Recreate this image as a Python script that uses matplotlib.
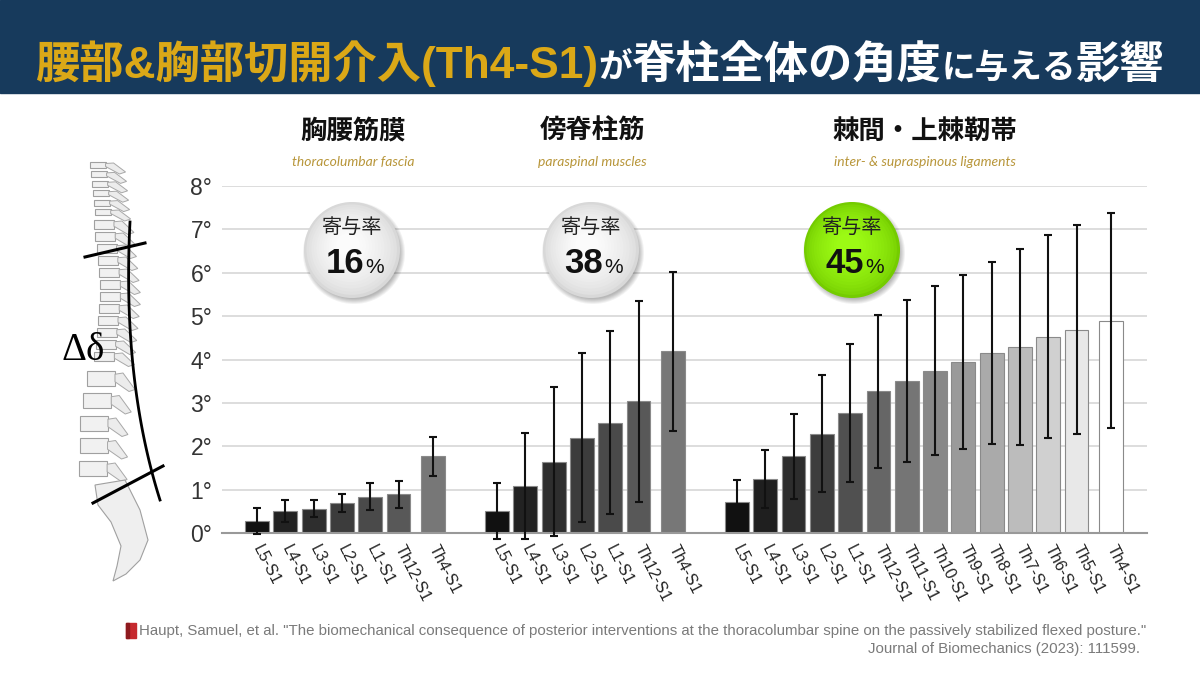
import numpy as np
import matplotlib.pyplot as plt
from matplotlib.patches import Rectangle, Circle, Polygon

plt.rcParams['font.family'] = ['Noto Sans CJK JP', 'DejaVu Sans']

# data
left_labels = ['L5-S1', 'L4-S1', 'L3-S1', 'L2-S1', 'L1-S1', 'Th12-S1', 'Th4-S1']
left_vals = [0.28, 0.52, 0.57, 0.70, 0.84, 0.90, 1.77]
left_errs = [0.30, 0.25, 0.19, 0.20, 0.31, 0.31, 0.45]

mid_labels = ['L5-S1', 'L4-S1', 'L3-S1', 'L2-S1', 'L1-S1', 'Th12-S1', 'Th4-S1']
mid_vals = [0.52, 1.08, 1.65, 2.20, 2.55, 3.04, 4.19]
mid_errs = [0.65, 1.22, 1.71, 1.95, 2.11, 2.31, 1.83]

right_labels = ['L5-S1', 'L4-S1', 'L3-S1', 'L2-S1', 'L1-S1', 'Th12-S1', 'Th11-S1',
                'Th10-S1', 'Th9-S1', 'Th8-S1', 'Th7-S1', 'Th6-S1', 'Th5-S1', 'Th4-S1']
right_vals = [0.71, 1.25, 1.77, 2.29, 2.78, 3.27, 3.51, 3.75, 3.94, 4.15, 4.29, 4.53, 4.69, 4.90]
right_errs = [0.52, 0.67, 0.98, 1.35, 1.59, 1.76, 1.86, 1.95, 2.00, 2.10, 2.25, 2.34, 2.41, 2.47]

group_names = ['胸腰筋膜', '傍脊柱筋', '棘間・上棘靭帯']
group_sub = ['thoracolumbar fascia', 'paraspinal muscles', 'inter- & supraspinous ligaments']
contrib = ['16', '38', '45']

short_colors = ['#111111', '#222222', '#2e2e2e', '#3c3c3c', '#4a4a4a', '#585858', '#777777']
long_colors = ['#111111', '#1f1f1f', '#2d2d2d', '#3d3d3d', '#505050', '#666666', '#757575',
               '#888888', '#9a9a9a', '#aaaaaa', '#bcbcbc', '#d0d0d0', '#e8e8e8', '#ffffff']

groups = [(left_labels, left_vals, left_errs, short_colors),
          (mid_labels, mid_vals, mid_errs, short_colors),
          (right_labels, right_vals, right_errs, long_colors)]
starts = [1.24, 9.72, 18.2]

fig = plt.figure(figsize=(12, 6.75), dpi=100)
fig.patch.set_facecolor('white')

ax = fig.add_axes([222/1200, (675-533.3)/675, 925/1200, 347.3/675])
ax.set_facecolor('none')
ax.set_axisbelow(True)

all_pos, all_lab = [], []
for (labs, vals, errs, cols), s in zip(groups, starts):
    pos = s + np.arange(len(vals), dtype=float)
    pos[-1] += 0.22
    ax.bar(pos, vals, width=0.84, color=cols, edgecolor='#8a8a8a', linewidth=0.8, zorder=2)
    ax.errorbar(pos, vals, yerr=errs, fmt='none', ecolor='#111111', elinewidth=1.5,
                capsize=3, capthick=1.5, zorder=3, clip_on=False)
    all_pos += list(pos)
    all_lab += labs

ax.set_xlim(0, 32.69)
ax.set_ylim(0, 8)
ax.set_yticks(range(9))
ax.set_yticklabels([f'{i}°' for i in range(9)], fontsize=16.5, color='#333333',
                   family=['Liberation Sans', 'DejaVu Sans'])
ax.set_xticks(all_pos)
ax.set_xticklabels(all_lab, rotation=-63, ha='left', va='center', rotation_mode='anchor',
                   fontsize=11.5, color='#222222', family=['Liberation Sans', 'DejaVu Sans'])
ax.tick_params(axis='x', length=0, pad=9)
ax.tick_params(axis='y', length=0, pad=7)
ax.grid(axis='y', color='#dadada', linewidth=1.3)
for sp in ['left', 'right', 'top']:
    ax.spines[sp].set_visible(False)
ax.spines['bottom'].set_color('#999999')
ax.spines['bottom'].set_linewidth(1.5)

# overlay in pixel coordinates for the decorations
deco = fig.add_axes([0, 0, 1, 1], zorder=5)
deco.set_xlim(0, 1200)
deco.set_ylim(675, 0)
deco.set_axis_off()
deco.patch.set_facecolor('none')

deco.add_patch(Rectangle((0, 0), 1200, 93, color='#173a5c', zorder=1))

# title made of pieces with different colours and sizes
pieces = [('腰部&胸部切開介入(Th4-S1)', '#dba817', 1.0),
          ('が', 'white', 0.76),
          ('脊柱全体の角度', 'white', 1.0),
          ('に与える', 'white', 0.76),
          ('影響', 'white', 1.0)]
tfam = ['Liberation Sans', 'Noto Sans CJK JP', 'DejaVu Sans']
renderer = fig.canvas.get_renderer()


def place_title(size, keep):
    x = 35
    for txt, col, rel in pieces:
        t = deco.text(x, 78, txt, color=col, fontsize=size*rel, fontweight='bold',
                      ha='left', va='baseline', zorder=3, family=tfam)
        w = t.get_window_extent(renderer).width
        if not keep:
            t.remove()
        x += w
    return x - 35


base = 30
wtot = place_title(base, False)
place_title(base * 1130 / wtot, True)

# group headings
head_x = [353, 592, 925]
for hx, name, sub in zip(head_x, group_names, group_sub):
    deco.text(hx, 131, name, fontsize=19, fontweight='bold', color='#111111',
              ha='center', va='center')
    deco.text(hx, 162, sub, fontsize=10, style='italic', color='#b8963a',
              ha='center', va='center', family=['Lato', 'DejaVu Sans'])

# contribution bubbles
bub_x = [352, 591, 852]
bub_col = [('#d8d8d8', '#fbfbfb'), ('#d8d8d8', '#fbfbfb'), ('#74cc00', '#9cfa14')]
for bx, pc, (c_out, c_in) in zip(bub_x, contrib, bub_col):
    by, r = 250, 48
    for k in range(6):
        deco.add_patch(Circle((bx + 2, by + 3), r + 3 - k, color='#000000',
                              alpha=0.05, lw=0, zorder=2))
    c0 = np.array(plt.matplotlib.colors.to_rgb(c_out))
    c1 = np.array(plt.matplotlib.colors.to_rgb(c_in))
    n = 14
    for k in range(n):
        f = k / (n - 1)
        rr = r * (1 - 0.75 * f)
        deco.add_patch(Circle((bx - 4 * f, by - 5 * f), rr, color=c0 + (c1 - c0) * f ** 0.6,
                              lw=0, zorder=3))
    deco.text(bx, 228, '寄与率', fontsize=14.5, color='#222222', ha='center', va='center', zorder=4)
    deco.text(bx + 12, 273, pc, fontsize=25, fontweight='bold', color='#111111', ha='right',
              va='baseline', zorder=4, family=['Liberation Sans', 'DejaVu Sans'])
    deco.text(bx + 13, 273, '%', fontsize=15, color='#111111', ha='left', va='baseline',
              zorder=4, family=['Liberation Sans', 'DejaVu Sans'])

# simple spine sketch
cy = [160, 215, 290, 360, 420, 475, 500]
cx = [97, 103, 111, 104, 94, 93, 100]
levels = ([(y, 16, 6) for y in np.linspace(165, 212, 6)] +
          [(y, 20, 9) for y in np.linspace(224, 356, 12)] +
          [(y, 28, 15) for y in np.linspace(378, 468, 5)])
for y, w, h in levels:
    x = np.interp(y, cy, cx)
    deco.add_patch(Rectangle((x - w / 2, y - h / 2), w, h, facecolor='#f1f1f1',
                             edgecolor='#a0a0a0', lw=0.8, zorder=2))
    deco.add_patch(Polygon([(x + w / 2, y - h / 4), (x + w / 2 + 8, y - h / 3),
                            (x + w / 2 + 20, y + h / 2 + 4), (x + w / 2 + 14, y + h / 2 + 6),
                            (x + w / 2, y + h / 4)],
                           facecolor='#ececec', edgecolor='#a8a8a8', lw=0.7, zorder=2))
deco.add_patch(Polygon([(95, 485), (125, 480), (140, 510), (148, 540), (140, 560),
                        (126, 574), (113, 581), (117, 566), (121, 546), (111, 522), (98, 505)],
                       facecolor='#efefef', edgecolor='#a0a0a0', lw=0.8, zorder=2))
t = np.linspace(0, 1, 60)
p0, p1, p2 = np.array([130, 222]), np.array([122, 380]), np.array([160, 500])
curve = np.outer((1 - t) ** 2, p0) + np.outer(2 * t * (1 - t), p1) + np.outer(t ** 2, p2)
deco.plot(curve[:, 0], curve[:, 1], color='black', lw=2, zorder=3)
deco.plot([85, 145], [257, 243], color='black', lw=2.2, zorder=3)
deco.plot([93, 163], [503, 466], color='black', lw=2.2, zorder=3)
deco.text(83, 350, 'Δδ', fontsize=28, color='black', ha='center', va='center', zorder=4,
          family=['Liberation Serif', 'DejaVu Serif'])

# citation
deco.add_patch(Rectangle((126, 623), 10, 15, color='#c62a2f', zorder=3))
deco.add_patch(Rectangle((126, 623), 2.5, 15, color='#8e1a1e', zorder=4))
cit1 = 'Haupt, Samuel, et al. "The biomechanical consequence of posterior interventions at the thoracolumbar spine on the passively stabilized flexed posture."'
cit2 = 'Journal of Biomechanics (2023): 111599.'
cfam = ['Liberation Sans Narrow', 'Liberation Sans', 'DejaVu Sans']
c1 = deco.text(139, 631, cit1, fontsize=11, color='#7a7a7a', ha='left', va='center', family=cfam)
w1 = c1.get_window_extent(renderer).width
csize = 11 * 1001 / w1
c1.set_fontsize(csize)
deco.text(1140, 649, cit2, fontsize=csize, color='#7a7a7a', ha='right', va='center', family=cfam)

fig.savefig('out.png', dpi=100)
